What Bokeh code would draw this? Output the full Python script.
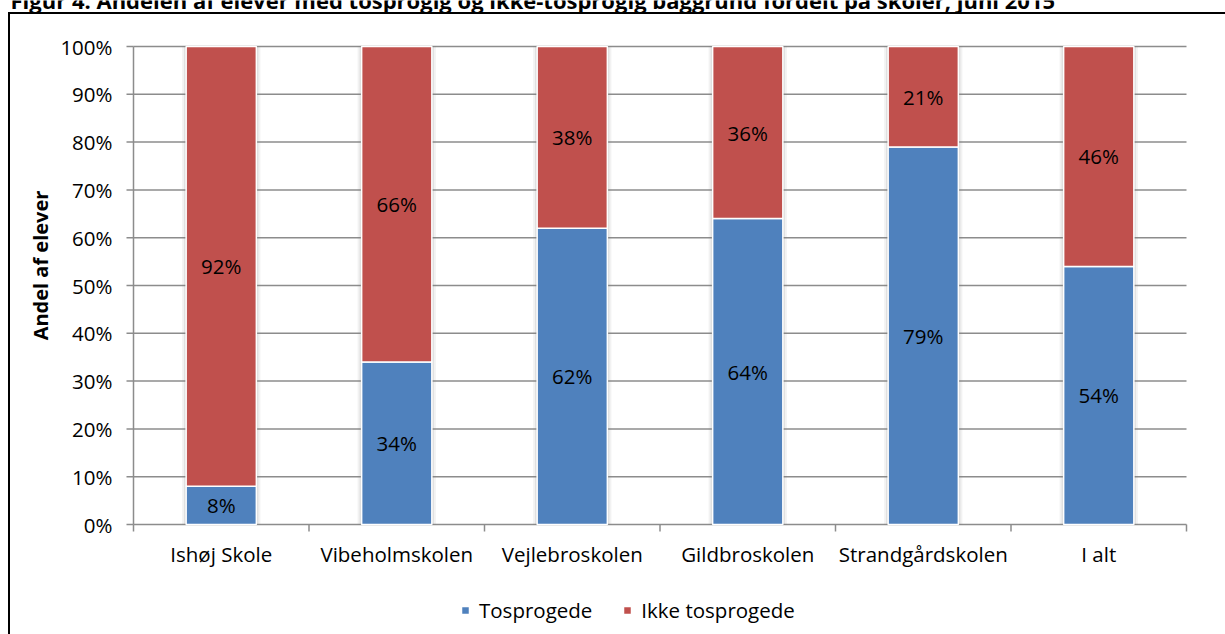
import math
from bokeh.plotting import figure
from bokeh.models import Legend, LegendItem, Label, ColumnDataSource, Range1d
from bokeh.core.properties import value
from bokeh.embed import file_html
from bokeh.resources import INLINE

# ---------------- data ----------------
title_text = "Figur 4. Andelen af elever med tosprogig og ikke-tosprogig baggrund fordelt på skoler, juni 2015"
schools = ["Ishøj Skole", "Vibeholmskolen", "Vejlebroskolen", "Gildbroskolen", "Strandgårdskolen", "I alt"]
tosprogede = [8, 34, 62, 64, 79, 54]
ikke_tosprogede = [92, 66, 38, 36, 21, 46]
series_names = ["Tosprogede", "Ikke tosprogede"]
y_ticks = [0, 10, 20, 30, 40, 50, 60, 70, 80, 90, 100]
y_tick_labels = ["0%", "10%", "20%", "30%", "40%", "50%", "60%", "70%", "80%", "90%", "100%"]
y_label = "Andel af elever"

# ---------------- layout / style ----------------
FONT = "Open Sans"
FS = "20.5px"
BLUE = "#4F81BD"
RED = "#C0504D"
GRID = "#8C8C8C"
W, H = 1225, 634
FL, FR, FT, FB = 133, 1186, 46, 524      # plot-area edges in pixels
BAR_W = 0.4
N = len(schools)
Y_MAX = 100

px_x = N / (FR - FL)          # data units per pixel
px_y = Y_MAX / (FB - FT)

p = figure(width=W, height=H, output_backend="svg", toolbar_location=None,
           x_axis_location=None, y_axis_location=None, min_border=0,
           x_range=Range1d(0 - FL * px_x, N + (W - FR) * px_x),
           y_range=Range1d(0 - (H - FB) * px_y, Y_MAX + FT * px_y))
p.grid.visible = False
p.outline_line_color = None
p.background_fill_color = None
p.border_fill_color = None
# outer frame (only its top and left edges are visible in the reference)
p.styles = {
    "background-color": "white",
    "background-image": "linear-gradient(#000, #000), linear-gradient(#000, #000)",
    "background-position": "8px 12px, 8px 12px",
    "background-size": "3000px 2px, 2px 3000px",
    "background-repeat": "no-repeat",
}

centers = [i + 0.5 for i in range(N)]
src = ColumnDataSource(dict(
    x=centers,
    tos=tosprogede,
    ikke=ikke_tosprogede,
    total=[t + v for t, v in zip(tosprogede, ikke_tosprogede)],
    tos_mid=[v / 2 for v in tosprogede],
    ikke_mid=[t + v / 2 for t, v in zip(tosprogede, ikke_tosprogede)],
    tos_lbl=[f"{v}%" for v in tosprogede],
    ikke_lbl=[f"{v}%" for v in ikke_tosprogede],
    name=schools,
    zero=[0] * N,
))
ticks_src = ColumnDataSource(dict(y=y_ticks, lbl=y_tick_labels,
                                  x0=[0] * len(y_ticks), x1=[N] * len(y_ticks)))
bounds_src = ColumnDataSource(dict(x=list(range(N + 1)), y=[0] * (N + 1)))

# horizontal gridlines
p.segment(x0="x0", x1="x1", y0="y", y1="y", source=ticks_src,
          line_color=GRID, line_width=1.5)
# y axis line and ticks
p.segment(x0=[0], x1=[0], y0=[0], y1=[Y_MAX], line_color=GRID, line_width=1.5)
p.ray(x="x0", y="y", length=7, length_units="screen", angle=math.pi, source=ticks_src,
      line_color=GRID, line_width=1.5)
# x axis ticks at category boundaries
p.ray(x="x", y="y", length=7, length_units="screen", angle=-math.pi / 2, source=bounds_src,
      line_color=GRID, line_width=1.5)

# soft shadow around bars
for grow, alpha in [(4, 0.10), (2, 0.18)]:
    p.vbar(x="x", top="total", bottom=0, width=BAR_W + 2 * grow * px_x, source=src,
           fill_color="#808080", fill_alpha=alpha, line_color=None)

rs = p.vbar_stack(["tos", "ikke"], x="x", width=BAR_W, source=src,
                  color=[BLUE, RED], line_color="white", line_width=1.5)

# data labels
for col, lbl in [("tos_mid", "tos_lbl"), ("ikke_mid", "ikke_lbl")]:
    p.text(x="x", y=col, text=lbl, source=src, text_align="center",
           text_baseline="middle", text_font=value(FONT), text_font_size=FS,
           text_color="black")

# y tick labels
p.text(x="x0", y="y", text="lbl", source=ticks_src, x_offset=-21, text_align="right",
       text_baseline="middle", text_font=value(FONT), text_font_size=FS, text_color="black")
# x category labels
p.text(x="x", y="zero", text="name", source=src, y_offset=29, text_align="center",
       text_baseline="middle", text_font=value(FONT), text_font_size=FS, text_color="black")

# y axis title
p.add_layout(Label(x=40, y=H - 265, x_units="screen", y_units="screen", text=y_label,
                   angle=math.pi / 2, text_align="center", text_baseline="middle",
                   text_font=FONT, text_font_size="20px", text_font_style="bold",
                   text_color="black"))

# legend
legend = Legend(items=[LegendItem(label=series_names[0], renderers=[rs[0]]),
                       LegendItem(label=series_names[1], renderers=[rs[1]])],
                orientation="horizontal", location=(460, 10),
                glyph_width=10, glyph_height=10, label_text_font=FONT,
                label_text_font_size=FS, label_text_color="black",
                label_standoff=9, spacing=30,
                border_line_color=None, background_fill_alpha=0, padding=0, margin=0)
p.add_layout(legend, "center")

# title (cropped at the top of the page, as in the reference)
p.add_layout(Label(x=10, y=H + 1, x_units="screen", y_units="screen", text=title_text,
                   text_font=FONT, text_font_size="22px", text_font_style="bold",
                   text_color="black", text_baseline="alphabetic"))

open("out.html", "w").write(file_html(p, INLINE))
